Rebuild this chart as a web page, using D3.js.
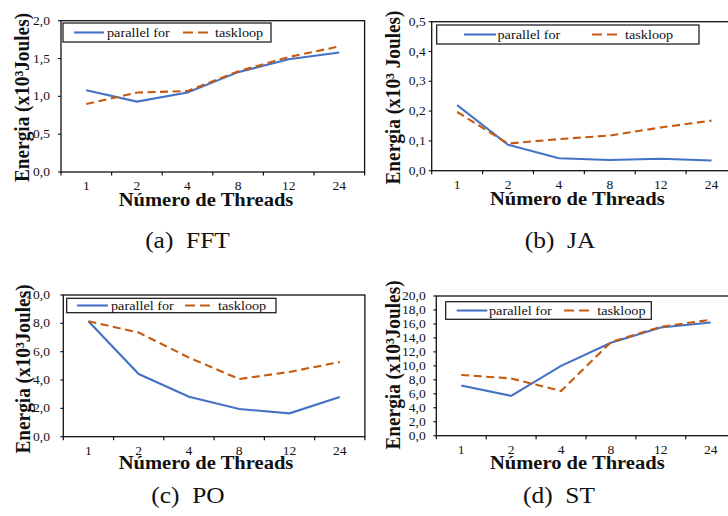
<!DOCTYPE html>
<html><head><meta charset="utf-8">
<script src="https://cdn.jsdelivr.net/npm/d3@7"></script>
<style>
body{margin:0;background:#fff}
svg{display:block}
</style>
</head><body><svg id="c" width="728" height="516"></svg>
<script>
// ---- data ----
const threads = ["1","2","4","8","12","24"];
const seriesNames = ["parallel for","taskloop"];
const fftParallel = [1.08,0.93,1.05,1.32,1.49,1.58];
const fftTaskloop = [0.90,1.05,1.07,1.33,1.52,1.66];
const jaParallel  = [0.22,0.087,0.042,0.036,0.040,0.034];
const jaTaskloop  = [0.197,0.091,0.106,0.118,0.145,0.168];
const poParallel  = [8.15,4.42,2.82,1.95,1.65,2.80];
const poTaskloop  = [8.15,7.35,5.58,4.07,4.57,5.27];
const stParallel  = [7.2,5.7,10.0,13.3,15.5,16.2];
const stTaskloop  = [8.7,8.2,6.4,13.4,15.6,16.6];
const ticksFFT = [0,0.5,1.0,1.5,2.0];
const ticksJA  = [0,0.1,0.2,0.3,0.4,0.5];
const ticksPO  = [0,2,4,6,8,10];
const ticksST  = [0,2,4,6,8,10,12,14,16,18,20];
const yTitles = ["Energia (x10³Joules)","Energia (x10³ Joules)","Energia (x10³Joules)","Energia (x10³Joules)"];
const captions = ["(a)  FFT","(b)  JA","(c)  PO","(d)  ST"];
const xTitle = "Número de Threads";

// ---- layout ----
const SX = 1.13;
const FONT = "'Liberation Serif', Tinos, 'Times New Roman', Times, serif";
const colors = ["#4472C4","#C55A11"];
const panels = [
  {par:fftParallel, task:fftTaskloop, ticks:ticksFFT, title:yTitles[0], cap:captions[0],
   L:61, R:364.6, T:20.7, B:172, labR:50, ytX:28.5, ytCY:97.5, xtCX:206, xtY:206, tlY:190, capCX:187.5, capY:248,
   lg:{x0:63, x1:271, y0:23, y1:42, a:[74,104], t1:107, b:[183,209], t2:215}},
  {par:jaParallel, task:jaTaskloop, ticks:ticksJA, title:yTitles[1], cap:captions[1],
   L:431.7, R:737, T:21.7, B:170.7, labR:425.7, ytX:400, ytCY:97.5, xtCX:577.3, xtY:205, tlY:188.5, capCX:560, capY:248,
   lg:{x0:436.7, x1:699, y0:25, y1:44, a:[464,496], t1:497.5, b:[592,619], t2:625}},
  {par:poParallel, task:poTaskloop, ticks:ticksPO, title:yTitles[2], cap:captions[2],
   L:63.3, R:364.9, T:295, B:436.7, labR:50, ytX:30, ytCY:369, xtCX:206, xtY:469, tlY:454.5, capCX:188, capY:503,
   lg:{x0:66.7, x1:276, y0:298.3, y1:312.7, a:[77,108], t1:111, b:[185,212], t2:218}},
  {par:stParallel, task:stTaskloop, ticks:ticksST, title:yTitles[3], cap:captions[3],
   L:436.3, R:735.7, T:296, B:435.7, labR:425.7, ytX:400, ytCY:365, xtCX:577.3, xtY:469, tlY:454, capCX:559, capY:503,
   lg:{x0:445.7, x1:651.3, y0:301.7, y1:319.3, a:[456.7,487.3], t1:489, b:[564,594], t2:597.3}}
];

const svg = d3.select("#c");
function txt(g, x, y, s, size, anchor, weight, rot){
  return g.append("text")
    .attr("transform", `translate(${x},${y}) scale(${SX},1)` + (rot ? " rotate(-90)" : ""))
    .attr("font-family", FONT).attr("fill", "#111")
    .attr("text-anchor", anchor).attr("font-size", size).attr("font-weight", weight || "normal")
    .style("white-space", "pre")
    .text(s);
}
const fmt = v => d3.format(".1f")(v).replace(".", ",");

panels.forEach(p => {
  const g = svg.append("g");
  const x = d3.scaleBand().domain(threads).range([p.L, p.R]).paddingInner(0).paddingOuter(0);
  const y = d3.scaleLinear().domain([p.ticks[0], p.ticks[p.ticks.length-1]]).range([p.B, p.T]);
  const cx = d => x(d) + x.bandwidth()/2;

  // plot box
  g.append("rect").attr("x", p.L).attr("y", p.T).attr("width", p.R - p.L).attr("height", p.B - p.T)
    .attr("fill", "none").attr("stroke", "#111").attr("stroke-width", 1.3);

  // x axis ticks at band boundaries
  const bounds = threads.map(d => x(d)).concat([p.R]);
  g.selectAll(null).data(bounds).enter().append("line")
    .attr("x1", d => d).attr("x2", d => d).attr("y1", p.B).attr("y2", p.B + 3.5)
    .attr("stroke", "#111").attr("stroke-width", 1.2);
  threads.forEach(d => txt(g, cx(d), p.tlY, d, 12, "middle"));

  // y axis ticks + labels
  g.selectAll(null).data(p.ticks).enter().append("line")
    .attr("x1", p.L - 3).attr("x2", p.L).attr("y1", d => y(d)).attr("y2", d => y(d))
    .attr("stroke", "#111").attr("stroke-width", 1.1);
  p.ticks.forEach(t => txt(g, p.labR, y(t) + 4, fmt(t), 12, "end"));

  // series
  const line = d3.line().x((d, i) => cx(threads[i])).y(d => y(d));
  g.append("path").attr("d", line(p.par)).attr("fill", "none").attr("stroke", colors[0]).attr("stroke-width", 2.1);
  g.append("path").attr("d", line(p.task)).attr("fill", "none").attr("stroke", colors[1]).attr("stroke-width", 2.1)
    .attr("stroke-dasharray", "8,4.5");

  // legend
  const lg = p.lg, my = (lg.y0 + lg.y1) / 2;
  g.append("rect").attr("x", lg.x0).attr("y", lg.y0).attr("width", lg.x1 - lg.x0).attr("height", lg.y1 - lg.y0)
    .attr("fill", "#fff").attr("stroke", "#111").attr("stroke-width", 1.2);
  g.append("line").attr("x1", lg.a[0]).attr("x2", lg.a[1]).attr("y1", my).attr("y2", my)
    .attr("stroke", colors[0]).attr("stroke-width", 2.1);
  g.append("line").attr("x1", lg.b[0]).attr("x2", lg.b[1]).attr("y1", my).attr("y2", my)
    .attr("stroke", colors[1]).attr("stroke-width", 2.1).attr("stroke-dasharray", "10,5");
  txt(g, lg.t1, my + 4.5, seriesNames[0], 12.6, "start");
  txt(g, lg.t2, my + 4.5, seriesNames[1], 12.6, "start");

  // titles
  txt(g, p.ytX, p.ytCY, p.title, 19.3, "middle", "bold", true);
  txt(g, p.xtCX, p.xtY, xTitle, 18.2, "middle", "bold");
  txt(g, p.capCX, p.capY, p.cap, 22.5, "middle");
});
</script>
</body></html>
